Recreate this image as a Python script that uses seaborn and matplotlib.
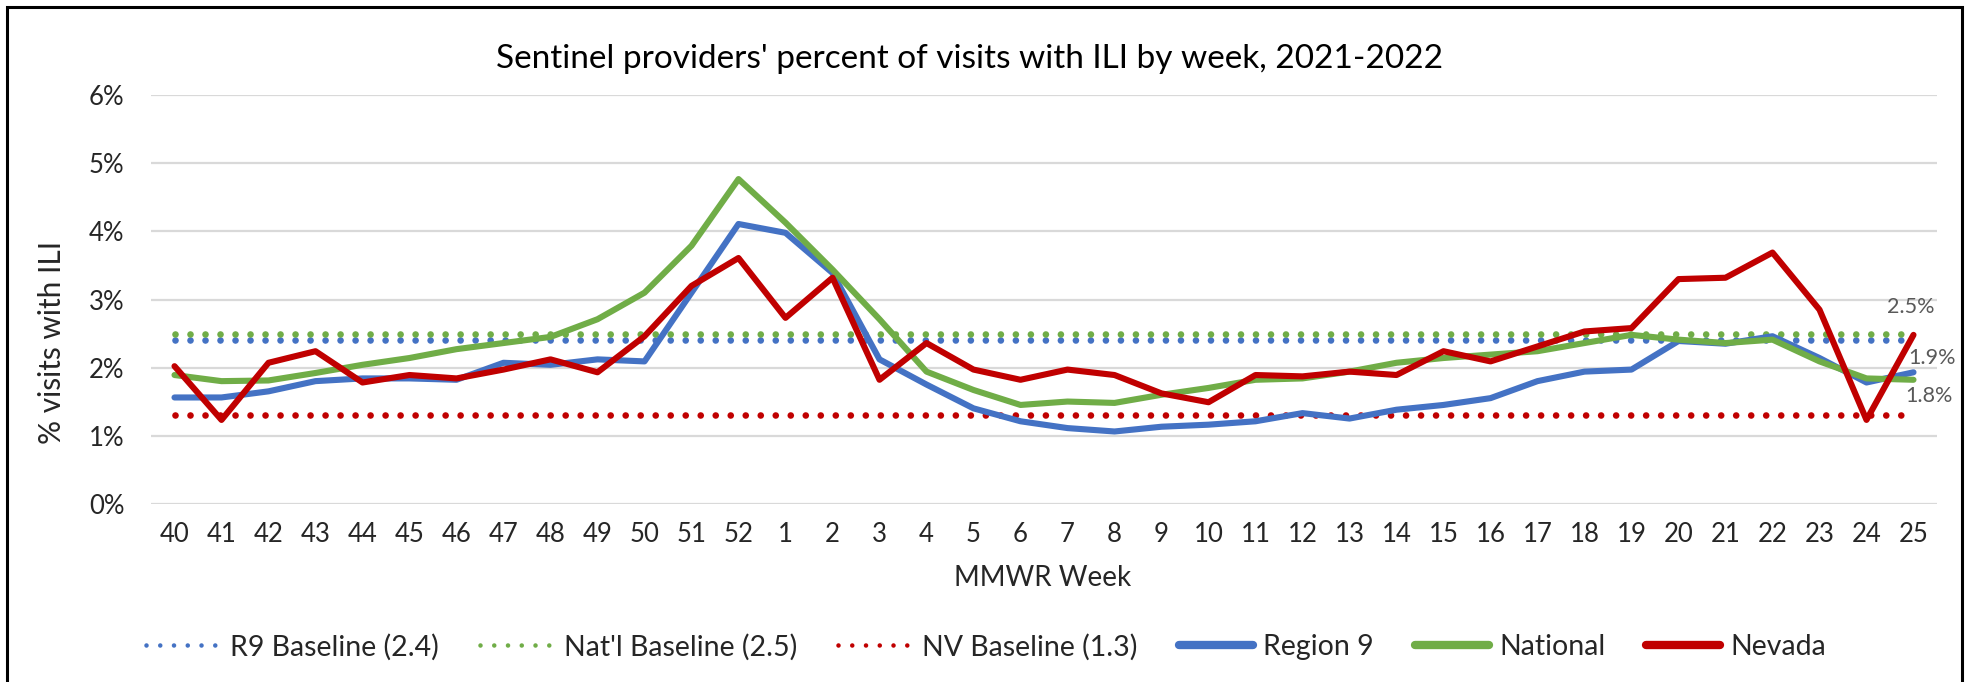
import numpy as np
import pandas as pd
import matplotlib
matplotlib.use("Agg")
import matplotlib.pyplot as plt
import seaborn as sns
from matplotlib.lines import Line2D
from matplotlib.patches import Rectangle

# ---------------- data ----------------
weeks = ["40", "41", "42", "43", "44", "45", "46", "47", "48", "49", "50", "51", "52",
         "1", "2", "3", "4", "5", "6", "7", "8", "9", "10", "11", "12", "13", "14",
         "15", "16", "17", "18", "19", "20", "21", "22", "23", "24", "25"]

region9 = [1.56, 1.56, 1.65, 1.80, 1.84, 1.84, 1.82, 2.07, 2.04, 2.12, 2.09, 3.10, 4.11,
           3.98, 3.39, 2.12, 1.75, 1.40, 1.21, 1.11, 1.06, 1.13, 1.16, 1.21, 1.33, 1.25,
           1.38, 1.45, 1.55, 1.80, 1.94, 1.97, 2.39, 2.35, 2.46, 2.14, 1.78, 1.93]

national = [1.89, 1.80, 1.81, 1.92, 2.04, 2.14, 2.27, 2.36, 2.45, 2.71, 3.10, 3.79, 4.77,
            4.13, 3.44, 2.71, 1.94, 1.67, 1.45, 1.50, 1.48, 1.60, 1.70, 1.82, 1.84, 1.94,
            2.07, 2.14, 2.19, 2.24, 2.36, 2.48, 2.41, 2.36, 2.41, 2.09, 1.84, 1.82]

nevada = [2.02, 1.23, 2.07, 2.24, 1.78, 1.89, 1.84, 1.97, 2.12, 1.93, 2.46, 3.20, 3.61,
          2.73, 3.32, 1.82, 2.36, 1.97, 1.82, 1.97, 1.89, 1.62, 1.49, 1.89, 1.87, 1.94,
          1.89, 2.24, 2.09, 2.31, 2.53, 2.58, 3.30, 3.32, 3.69, 2.85, 1.23, 2.48]

r9_baseline = 2.4
natl_baseline = 2.5
nv_baseline = 1.3

y_ticks = [0, 1, 2, 3, 4, 5, 6]
y_tick_labels = ["0%", "1%", "2%", "3%", "4%", "5%", "6%"]

title = "Sentinel providers' percent of visits with ILI by week, 2021-2022"
x_label = "MMWR Week"
y_label = "% visits with ILI"

# ---------------- style ----------------
sns.set_theme(style="white")
plt.rcParams["font.family"] = ["Lato", "DejaVu Sans"]

BLUE = "#4472C4"
GREEN = "#70AD47"
RED = "#C00000"
GRID = "#D9D9D9"
TXT = "#262626"
LBL = "#595959"

fig = plt.figure(figsize=(19.69, 6.82), dpi=100)
ax = fig.add_axes([151 / 1969, 178.4 / 682, (1937 - 151) / 1969, (503.6 - 95.4) / 682])

n = len(weeks)
df = pd.DataFrame({"pos": np.arange(n), "week": weeks,
                   "Region 9": region9, "National": national, "Nevada": nevada})

LW = 4.4
DOT_LW = 4.8
dot_style = (0, (0.001, 2.25))
leg_dot_style = (0, (0.001, 3.0))

# baselines (behind the series)
for b, c in [(r9_baseline, BLUE), (natl_baseline, GREEN), (nv_baseline, RED)]:
    ax.plot([df["pos"].iloc[0], df["pos"].iloc[-1]], [b, b], color=c, lw=DOT_LW,
            linestyle=dot_style, dash_capstyle="round", zorder=2)

for col, c in [("Region 9", BLUE), ("National", GREEN), ("Nevada", RED)]:
    sns.lineplot(data=df, x="pos", y=col, ax=ax, color=c, lw=LW,
                 solid_joinstyle="round", solid_capstyle="round", zorder=3)

ax.set_xlim(-0.5, n - 0.5)
ax.set_ylim(0, 6)
ax.set_yticks(y_ticks)
ax.set_yticklabels(y_tick_labels)
ax.set_xticks(df["pos"])
ax.set_xticklabels(weeks)
ax.set_xlabel("")
ax.set_ylabel("")
ax.grid(axis="y", color=GRID, lw=1.6)
ax.set_axisbelow(True)
for s in ax.spines.values():
    s.set_visible(False)
ax.tick_params(axis="x", length=0, pad=13, labelsize=18.5, labelcolor=TXT)
ax.tick_params(axis="y", length=0, pad=19, labelsize=18.5, labelcolor=TXT)

# data labels at last points
ax.annotate(f"{nevada[-1]:.1f}%", (df["pos"].iloc[-1], nevada[-1]), xytext=(-2, 20),
            textcoords="offset points", ha="center", va="center", fontsize=15.5, color=LBL,
            annotation_clip=False)
ax.annotate(f"{region9[-1]:.1f}%", (df["pos"].iloc[-1], region9[-1]), xytext=(-4, 10),
            textcoords="offset points", ha="left", va="center", fontsize=15.5, color=LBL,
            annotation_clip=False)
ax.annotate(f"{national[-1]:.1f}%", (df["pos"].iloc[-1], national[-1]), xytext=(-6, -12),
            textcoords="offset points", ha="left", va="center", fontsize=15.5, color=LBL,
            annotation_clip=False)

# texts
fig.text(970 / 1969, 1 - 59 / 682, title, ha="center", va="center", fontsize=24, color="#000000")
fig.text(1043 / 1969, 1 - 578 / 682, x_label, ha="center", va="center", fontsize=20, color=TXT)
fig.text(52 / 1969, 1 - 342 / 682, y_label, ha="center", va="center", rotation=90,
         fontsize=21.5, color=TXT)

# legend
handles = [
    Line2D([], [], color=BLUE, lw=3.3, linestyle=leg_dot_style, dash_capstyle="round"),
    Line2D([], [], color=GREEN, lw=3.3, linestyle=leg_dot_style, dash_capstyle="round"),
    Line2D([], [], color=RED, lw=3.3, linestyle=leg_dot_style, dash_capstyle="round"),
    Line2D([], [], color=BLUE, lw=6, solid_capstyle="round"),
    Line2D([], [], color=GREEN, lw=6, solid_capstyle="round"),
    Line2D([], [], color=RED, lw=6, solid_capstyle="round"),
]
labels = ["R9 Baseline (2.4)", "Nat'l Baseline (2.5)", "NV Baseline (1.3)",
          "Region 9", "National", "Nevada"]
fig.legend(handles, labels, loc="center", bbox_to_anchor=(986 / 1969, 35 / 682), ncol=6,
           frameon=False, fontsize=20.5, handlelength=2.6, handletextpad=0.35,
           columnspacing=1.45, labelcolor=TXT)

# outer frame
fig.patches.append(Rectangle((7 / 1969, -0.05), (1962 - 7) / 1969, 1.05 - 7 / 682,
                             transform=fig.transFigure, fill=False, edgecolor="black",
                             lw=2.2, zorder=10))

fig.savefig("out.png", dpi=100)
